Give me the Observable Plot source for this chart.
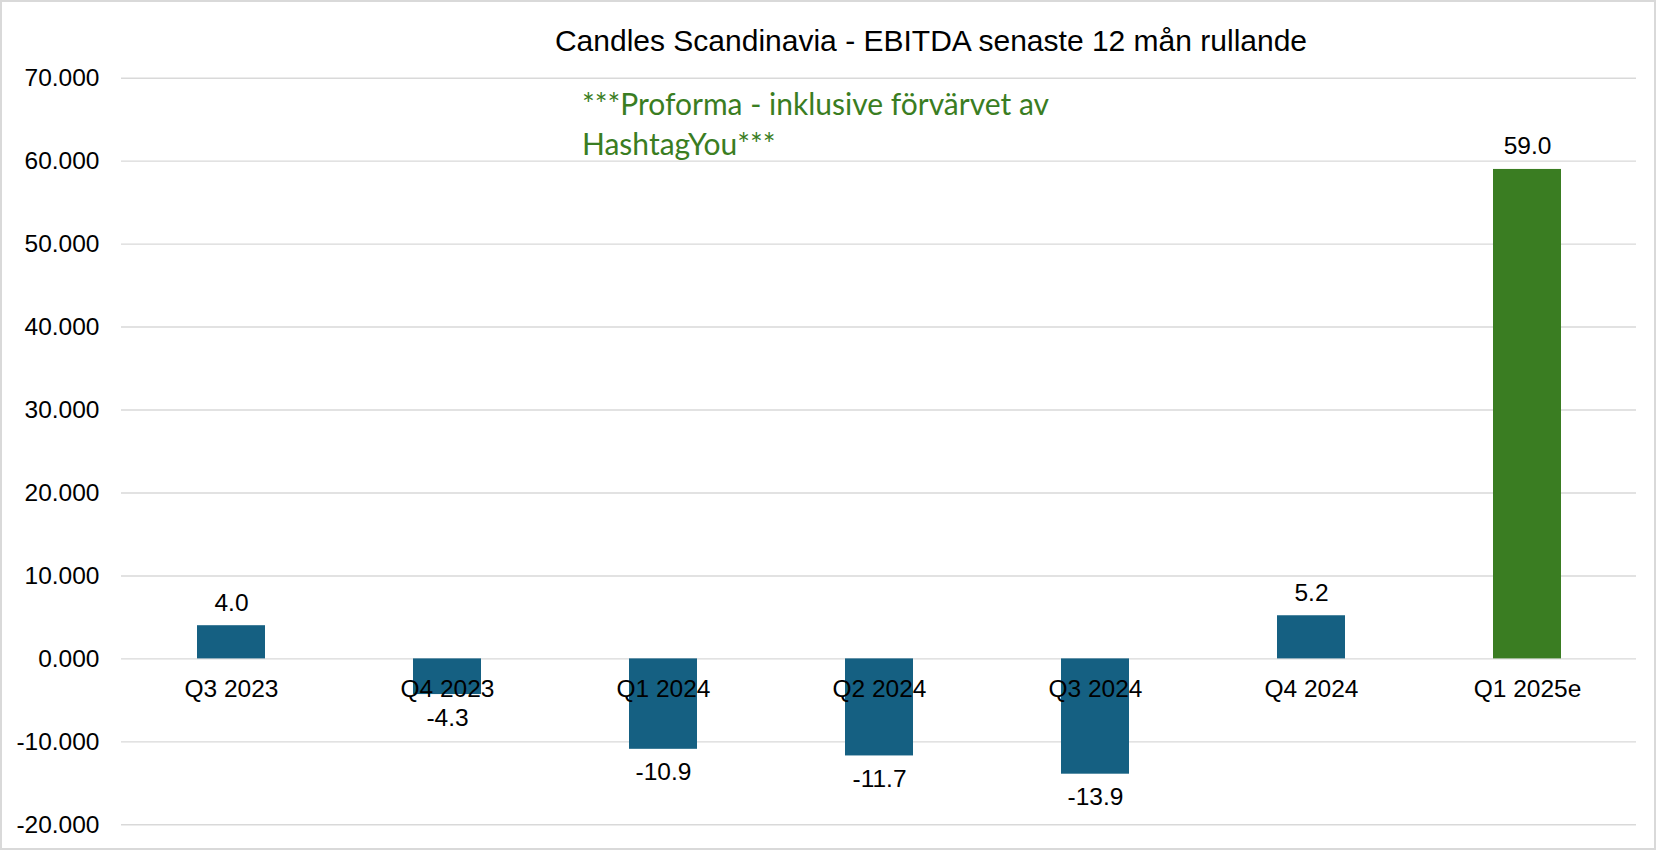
<!DOCTYPE html>
<html>
<head>
<meta charset="utf-8">
<script src="https://cdn.jsdelivr.net/npm/d3@7"></script>
<script src="https://cdn.jsdelivr.net/npm/@observablehq/plot@0.6"></script>
<style>
  html, body { margin: 0; padding: 0; background: #fff; }
  #wrap { position: relative; width: 1659px; height: 850px; overflow: hidden; background: #fff; }
  #wrap svg { position: absolute; left: 0; top: 0; }
  #frame { position: absolute; left: 0; top: 0; width: 1656px; height: 850px; box-sizing: border-box; border: 2px solid #d9d9d9; pointer-events: none; }
  #title { position: absolute; left: 931px; top: 26px; transform: translateX(-50%); white-space: nowrap;
           font-family: "Liberation Sans", Arial, sans-serif; font-size: 30px; line-height: 30px; color: #000; }
  #note { position: absolute; left: 582px; top: 83px; white-space: nowrap;
          font-family: Lato, "Noto Sans", sans-serif; font-size: 30px; line-height: 40px; color: #3A7D22; }
</style>
</head>
<body>
<div id="wrap">
  <div id="title"></div>
  <div id="note"></div>
  <div id="frame"></div>
</div>
<script>
// ---- data ----
const categories = ["Q3 2023", "Q4 2023", "Q1 2024", "Q2 2024", "Q3 2024", "Q4 2024", "Q1 2025e"];
const ebitda = [4.0, -4.3, -10.9, -11.7, -13.9, 5.2, 59.0];
const barKinds = ["actual", "actual", "actual", "actual", "actual", "actual", "proforma"];
const yTicks = [-20, -10, 0, 10, 20, 30, 40, 50, 60, 70];
const titleText = "Candles Scandinavia - EBITDA senaste 12 mån rullande";
const noteLines = ["***Proforma - inklusive förvärvet av", "HashtagYou***"];

// ---- table ----
const rows = categories.map((c, i) => ({ category: c, value: ebitda[i], kind: barKinds[i] }));

document.getElementById("title").textContent = titleText;
const noteEl = document.getElementById("note");
noteLines.forEach((t, i) => { if (i) noteEl.appendChild(document.createElement("br")); noteEl.appendChild(document.createTextNode(t)); });

const chart = Plot.plot({
  width: 1659,
  height: 850,
  marginLeft: 121,
  marginRight: 23,
  marginTop: 77.7,
  marginBottom: 25.7,
  style: { fontFamily: "'Liberation Sans', Arial, sans-serif", fontSize: "24px", background: "transparent", color: "#000" },
  x: { domain: categories, paddingInner: 0.686, paddingOuter: 0.343, axis: null },
  y: { domain: [-20, 70], axis: null },
  color: { domain: ["actual", "proforma"], range: ["#156082", "#3A7D22"] },
  marks: [
    Plot.ruleY(yTicks, { stroke: "#d9d9d9", strokeWidth: 1.4 }),
    Plot.barY(rows, { x: "category", y: "value", fill: "kind" }),
    Plot.axisY({ ticks: yTicks, tickSize: 0, tickPadding: 22, tickFormat: d => d.toFixed(3), fontSize: 24.5, label: null }),
    Plot.text(rows, { x: "category", y: () => 0, text: "category", lineAnchor: "bottom", dy: 38, fontSize: 24.5, fill: "#000" }),
    Plot.text(rows.filter(d => d.value >= 0), { x: "category", y: "value", text: d => d.value.toFixed(1), lineAnchor: "bottom", dy: -15, fontSize: 24.5, fill: "#000" }),
    Plot.text(rows.filter(d => d.value < 0), { x: "category", y: "value", text: d => d.value.toFixed(1), lineAnchor: "bottom", dy: 31, fontSize: 24.5, fill: "#000" })
  ]
});
document.getElementById("wrap").insertBefore(chart, document.getElementById("title"));
</script>
</body>
</html>
